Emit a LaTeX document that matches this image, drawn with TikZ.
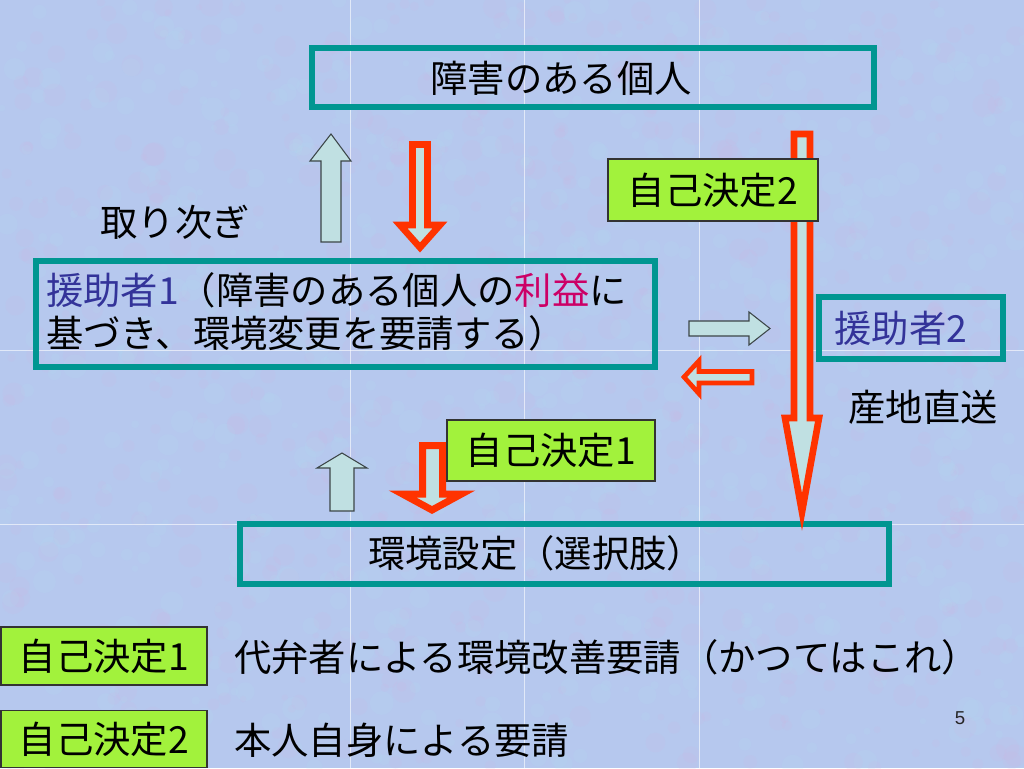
\documentclass[tikz,border=0pt]{standalone}
\usepackage{fontspec}
\setmainfont{Noto Sans CJK JP}
\newfontfamily\numfont{Liberation Sans}
\definecolor{bgcol}{RGB}{182,200,238}
\definecolor{bgpink}{RGB}{210,180,226}
\definecolor{bgcyan}{RGB}{178,224,242}
\definecolor{teal1}{RGB}{0,150,145}
\definecolor{lime1}{RGB}{162,242,60}
\definecolor{arrfill}{RGB}{192,224,226}
\definecolor{redarr}{RGB}{255,51,0}
\definecolor{greyline}{RGB}{60,70,72}
\definecolor{bluetxt}{RGB}{51,51,153}
\definecolor{magtxt}{RGB}{204,0,102}
\begin{document}
\begin{tikzpicture}[x=0.75pt,y=-0.75pt,
  txt/.style={inner sep=0pt, font=\fontsize{28}{32}\selectfont, text=black},
  tealbox/.style={draw=teal1, line width=4.5pt, inner sep=0pt},
  limebox/.style={draw=black!80, fill=lime1, line width=1.1pt, inner sep=0pt,
    font=\fontsize{28}{32}\selectfont},
  greyarrow/.style={fill=arrfill, draw=greyline, line width=0.8pt, line join=miter},
  redarrow/.style={fill=arrfill, draw=redarr, line width=5pt, line join=miter},
  gridline/.style={draw=white, line width=0.7pt, opacity=0.6}]
\useasboundingbox (0,0) rectangle (1024,768);
% background
\begin{scope}
\clip (0,0) rectangle (1024,768);
\fill[bgcol] (0,0) rectangle (1024,768);
\pgfmathsetseed{11}
\foreach \i in {1,...,700}{
  \pgfmathsetmacro{\xx}{rnd*1024}
  \pgfmathsetmacro{\yy}{rnd*768}
  \pgfmathsetmacro{\rr}{3+rnd*9}
  \fill[bgpink, opacity=0.13] (\xx,\yy) circle[radius=\rr];
}
\foreach \i in {1,...,700}{
  \pgfmathsetmacro{\xx}{rnd*1024}
  \pgfmathsetmacro{\yy}{rnd*768}
  \pgfmathsetmacro{\rr}{3+rnd*9}
  \fill[bgcyan, opacity=0.13] (\xx,\yy) circle[radius=\rr];
}
\draw[gridline] (350,0) -- (350,768);
\draw[gridline] (524,0) -- (524,768);
\draw[gridline] (699,0) -- (699,768);
\draw[gridline] (0,350) -- (1024,350);
\draw[gridline] (0,524) -- (1024,524);
\end{scope}

% boxes
\node[tealbox, minimum width={562*0.75pt}, minimum height={59*0.75pt}] (indiv) at (593,77.5) {};
\node[txt] (indivtext) at (561,78) {障害のある個人};

\node[tealbox, minimum width={619*0.75pt}, minimum height={106*0.75pt}] (helper1) at (345.5,314) {};
\node[txt, anchor=west, align=left] (helper1text) at (46,311.5)
  {\textcolor{bluetxt}{援助者1}（障害のある個人の\textcolor{magtxt}{利益}に\\基づき、環境変更を要請する）};

\node[tealbox, minimum width={184*0.75pt}, minimum height={62*0.75pt}] (helper2) at (911,328) {};
\node[txt, text=bluetxt] (helper2text) at (901,328) {援助者2};

\node[tealbox, minimum width={649*0.75pt}, minimum height={60*0.75pt}] (env) at (564.5,554) {};
\node[txt] (envtext) at (536,553) {環境設定（選択肢）};

\node[txt] (relay) at (175,222) {取り次ぎ};
\node[txt] (direct) at (923,407) {産地直送};

% block arrows
\draw[greyarrow] (331,134) -- (351,161) -- (341,161) -- (341,242) -- (321,242) -- (321,161) -- (310,161) -- cycle;
\draw[redarrow] (412.5,144.5) -- (427.5,144.5) -- (427.5,225) -- (440,225) -- (420,247.5) -- (400,225) -- (412.5,225) -- cycle;
\draw[redarrow] (794,134) -- (810,134) -- (810,418) -- (819,418) -- (802,512) -- (785,418) -- (794,418) -- cycle;
\draw[greyarrow] (689,321) -- (749,321) -- (749,312) -- (770,328.5) -- (749,345) -- (749,336) -- (689,336) -- cycle;
\draw[redarrow, line width=3.5pt] (684,377) -- (699,360.8) -- (699,371.5) -- (752,371.5) -- (752,383) -- (699,383) -- (699,393.7) -- cycle;
\draw[greyarrow] (342,453) -- (367,468) -- (354,468) -- (354,511) -- (330,511) -- (330,468) -- (317,468) -- cycle;
\draw[redarrow, line width=5.25pt] (422.5,445.5) -- (442.5,445.5) -- (442.5,494) -- (461.5,494) -- (432,510) -- (402.5,494) -- (422.5,494) -- cycle;

% lime labels
\node[limebox, minimum width={210*0.75pt}, minimum height={62*0.75pt}] (self2) at (713,190) {自己決定2};
\node[limebox, minimum width={208*0.75pt}, minimum height={61*0.75pt}] (self1) at (551,450.5) {自己決定1};
\node[limebox, minimum width={206*0.75pt}, minimum height={58*0.75pt}] (key1) at (104,656) {自己決定1};
\node[limebox, minimum width={206*0.75pt}, minimum height={57*0.75pt}] (key2) at (104,739) {自己決定2};

\node[txt, anchor=west] (key1text) at (234,657) {代弁者による環境改善要請（かつてはこれ）};
\node[txt, anchor=west] (key2text) at (234,740) {本人自身による要請};

\node[inner sep=0pt, font=\numfont\fontsize{14}{16}\selectfont, text=black!85] (pagenum) at (960,718) {5};
\end{tikzpicture}
\end{document}
